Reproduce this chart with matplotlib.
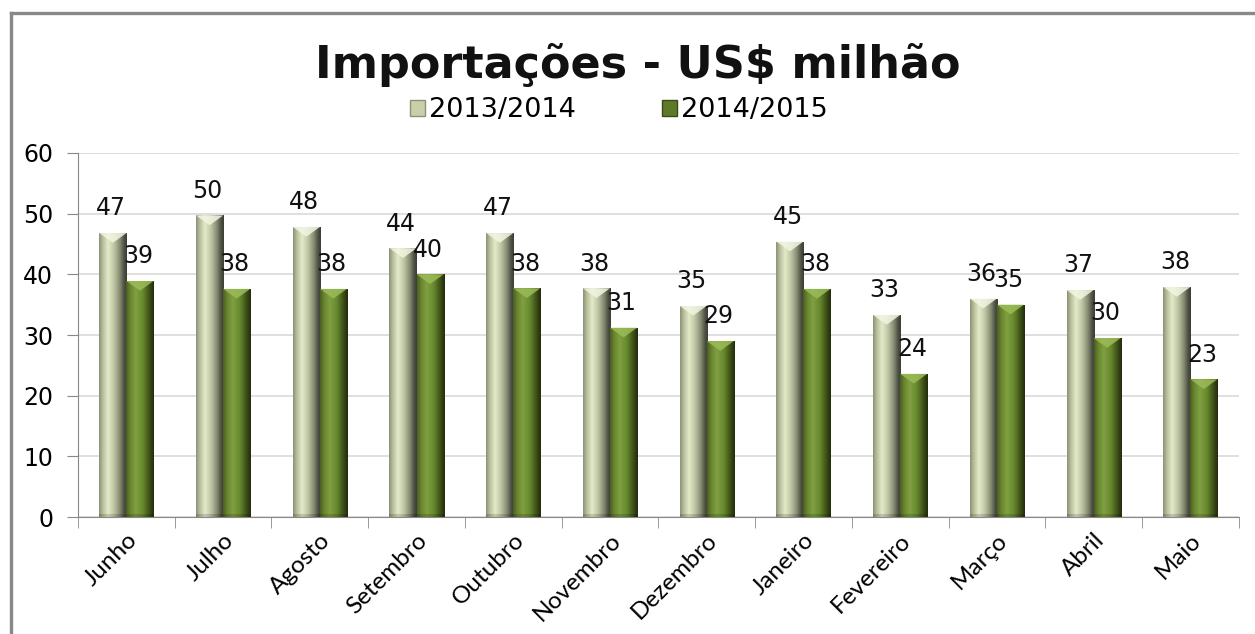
import numpy as np
import matplotlib
matplotlib.use("Agg")
import matplotlib.pyplot as plt
from matplotlib.colors import LinearSegmentedColormap
from matplotlib.patches import Rectangle, Polygon
from matplotlib.lines import Line2D

months = ["Junho", "Julho", "Agosto", "Setembro", "Outubro", "Novembro",
          "Dezembro", "Janeiro", "Fevereiro", "Março", "Abril", "Maio"]
s2013 = [46.8, 49.7, 47.8, 44.3, 46.8, 37.7, 34.8, 45.4, 33.3, 36.0, 37.4, 37.9]
s2014 = [38.9, 37.6, 37.6, 40.0, 37.7, 31.2, 29.0, 37.6, 23.6, 35.0, 29.5, 22.7]
series_names = ["2013/2014", "2014/2015"]

light_cmap = LinearSegmentedColormap.from_list(
    "light", [(0, "#8c917a"), (0.12, "#b4bc98"), (0.32, "#e4ebc9"),
              (0.55, "#bcc3a2"), (0.78, "#7d826b"), (0.9, "#4e5244"), (1, "#3a3d33")])
dark_cmap = LinearSegmentedColormap.from_list(
    "dark", [(0, "#4b5f22"), (0.15, "#6a8630"), (0.35, "#80a040"),
             (0.6, "#688a2e"), (0.8, "#445a1a"), (1, "#222c0e")])

fig = plt.figure(figsize=(12.55, 6.34), dpi=100)
ax = fig.add_axes([0.0622, 0.1845, 0.9248, 0.5742])

x = np.arange(len(months))
w = 0.28
bars1 = ax.bar(x - w / 2, s2013, w, color="none", zorder=3)
bars2 = ax.bar(x + w / 2, s2014, w, color="none", zorder=3)

grad = np.linspace(0, 1, 64).reshape(1, -1)
for bars, cmap, tipc in [(bars1, light_cmap, "#f2f6e2"), (bars2, dark_cmap, "#9cbc58")]:
    for b in bars:
        x0, w0, h0 = b.get_x(), b.get_width(), b.get_height()
        im = ax.imshow(grad, cmap=cmap, aspect="auto", extent=[x0, x0 + w0, 0, h0],
                       zorder=3, interpolation="bicubic")
        im.set_clip_path(b)
        tri = Polygon([[x0, h0], [x0 + w0, h0], [x0 + w0 / 2, h0 - 1.6]],
                      closed=True, facecolor=tipc, edgecolor="none", alpha=0.85, zorder=4)
        ax.add_patch(tri)
        ax.add_patch(Rectangle((x0, 0), w0, 0.5, facecolor="black", alpha=0.15,
                               edgecolor="none", zorder=4))

for bars, vals in [(bars1, s2013), (bars2, s2014)]:
    for b, v in zip(bars, vals):
        ax.text(b.get_x() + b.get_width() / 2 - 0.02, v + 2.1, f"{v:.0f}",
                ha="center", va="bottom", fontsize=17, color="#111111", zorder=5)

ax.set_xlim(-0.5, len(months) - 0.5)
ax.set_ylim(0, 60)
ax.set_yticks(range(0, 61, 10))
ax.set_xticks(x)
ax.set_xticklabels(months, rotation=45, ha="right", rotation_mode="anchor",
                   fontsize=17.5, family="Lato")
ax.set_xticks(np.arange(-0.5, len(months), 1), minor=True)
ax.tick_params(axis="x", which="major", length=0, pad=9)
ax.tick_params(axis="x", which="minor", length=8, color="#888888", direction="out")
ax.tick_params(axis="y", length=8, color="#888888", labelsize=17, pad=10)
ax.grid(axis="y", color="#d9d9d9", linewidth=1.2, zorder=0)
ax.set_axisbelow(True)
for s in ["top", "right"]:
    ax.spines[s].set_visible(False)
for s in ["left", "bottom"]:
    ax.spines[s].set_color("#888888")

fig.text(0.508, 0.897, "Importações - US$ milhão", ha="center", va="center",
         fontsize=32, fontweight="bold", color="#111111")

handles = [Rectangle((0, 0), 1, 1, facecolor="#c8d0aa", edgecolor="#8c917a"),
           Rectangle((0, 0), 1, 1, facecolor="#5e7a28", edgecolor="#3a4a16")]
fig.legend(handles, series_names, loc="center", bbox_to_anchor=(0.493, 0.826),
           ncol=2, frameon=False, fontsize=19.5, handlelength=0.55, handleheight=0.55,
           handletextpad=0.15, columnspacing=3.2)

fig.add_artist(Line2D([10.5 / 1255, 10.5 / 1255], [0, 1 - 12.5 / 634], transform=fig.transFigure,
                      color="#888888", linewidth=2.4))
fig.add_artist(Line2D([10.5 / 1255, 1], [1 - 12.5 / 634, 1 - 12.5 / 634], transform=fig.transFigure,
                      color="#888888", linewidth=2.4))

fig.savefig("out.png", dpi=100)
